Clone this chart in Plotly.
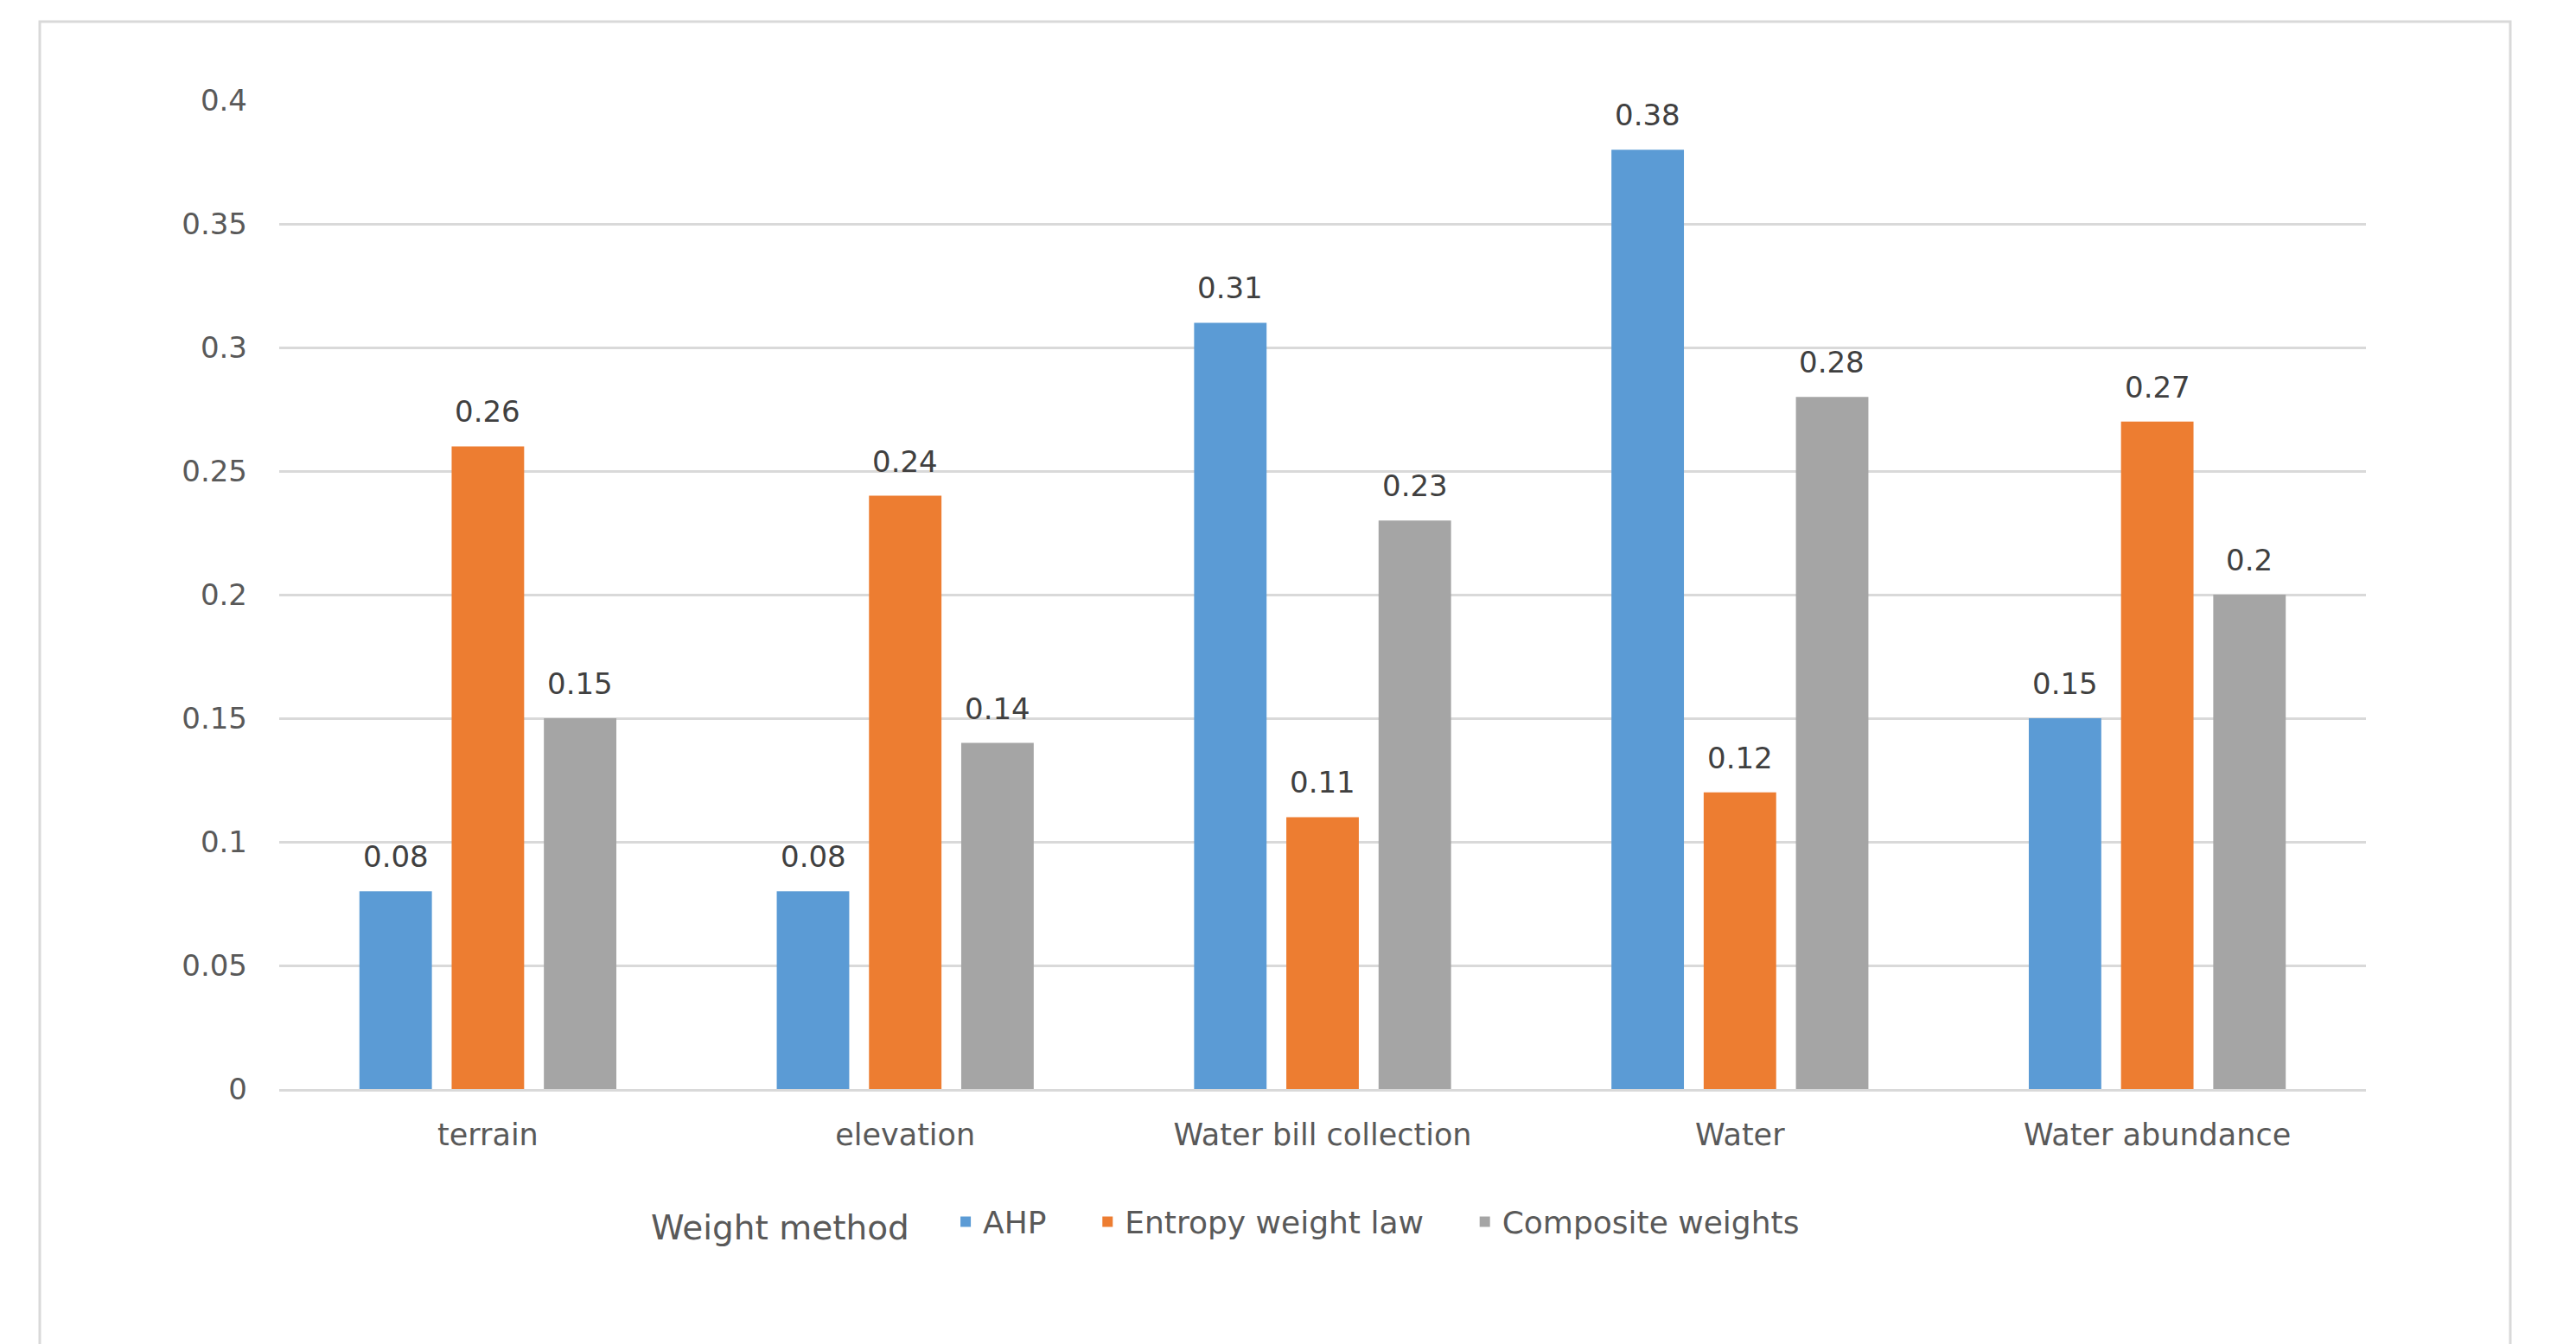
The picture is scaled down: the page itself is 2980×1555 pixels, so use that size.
import plotly.graph_objects as go

# Evaluation indicators and their weights under each weighting method
categories = ["terrain", "elevation", "Water bill collection", "Water", "Water abundance"]
ahp = [0.08, 0.08, 0.31, 0.38, 0.15]
entropy = [0.26, 0.24, 0.11, 0.12, 0.27]
composite = [0.15, 0.14, 0.23, 0.28, 0.20]
series_names = ["AHP", "Entropy weight law", "Composite weights"]
series_colors = ["#5B9BD5", "#ED7D31", "#A5A5A5"]
y_ticks = [0, 0.05, 0.1, 0.15, 0.2, 0.25, 0.3, 0.35, 0.4]

W, H = 2980, 1555
margin = dict(l=323, r=243, t=116, b=295)
plot_w = W - margin["l"] - margin["r"]
plot_h = H - margin["t"] - margin["b"]

FONT = "DejaVu Sans"
TEXT_GREY = "#595959"
LABEL_SIZE = 35
NBSP = "\u00a0"

fig = go.Figure()
series = [ahp, entropy, composite]
for name, vals, color in zip(series_names, series, series_colors):
    fig.add_trace(go.Bar(
        x=categories, y=vals, name=name + NBSP * 4,
        marker=dict(color=color, line=dict(width=0)),
        hovertemplate=name + ": %{y}<extra>%{x}</extra>",
    ))

# Value labels above each bar
bargap, groupgap = 0.337, 0.214
slot_px = plot_w / len(categories) * (1 - bargap) / len(series)
for i, vals in enumerate(series):
    shift = (i - 1) * slot_px
    for cat, v in zip(categories, vals):
        fig.add_annotation(
            x=cat, y=v, xref="x", yref="y", text=f"{v:g}", showarrow=False,
            xshift=shift, yshift=18, yanchor="bottom",
            font=dict(family=FONT, size=34, color="#404040"),
        )

# Light frame around the chart area
def px_x(p):
    return (p - margin["l"]) / plot_w

def px_y(p):
    return (H - margin["b"] - p) / plot_h

fig.add_shape(type="rect", xref="paper", yref="paper",
              x0=px_x(46), x1=px_x(2904), y0=px_y(1600), y1=px_y(25),
              line=dict(color="#D9D9D9", width=3), fillcolor="rgba(0,0,0,0)", layer="below")

fig.update_layout(
    width=W, height=H, margin=margin,
    paper_bgcolor="white", plot_bgcolor="white",
    barmode="group", bargap=bargap, bargroupgap=groupgap,
    font=dict(family=FONT, size=LABEL_SIZE, color=TEXT_GREY),
    showlegend=True,
    legend=dict(
        orientation="h", x=(751 - margin["l"]) / plot_w, xanchor="left",
        y=px_y(1414), yanchor="middle",
        title=dict(text="Weight method" + NBSP * 3,
                   font=dict(family=FONT, size=39, color=TEXT_GREY)),
        font=dict(family=FONT, size=36, color=TEXT_GREY),
        itemwidth=30, tracegroupgap=0,
    ),
    xaxis=dict(
        showgrid=False, showline=True, linecolor="#D9D9D9", linewidth=3,
        ticks="", tickfont=dict(family=FONT, size=LABEL_SIZE, color=TEXT_GREY),
        ticklabelstandoff=20,
    ),
    yaxis=dict(
        range=[0, 0.4], tickvals=y_ticks, showgrid=True, gridcolor="#D9D9D9",
        gridwidth=3, zeroline=False, showline=False, ticks="",
        tickfont=dict(family=FONT, size=34, color=TEXT_GREY),
        ticklabelstandoff=36,
    ),
)

fig.write_html("out.html")
